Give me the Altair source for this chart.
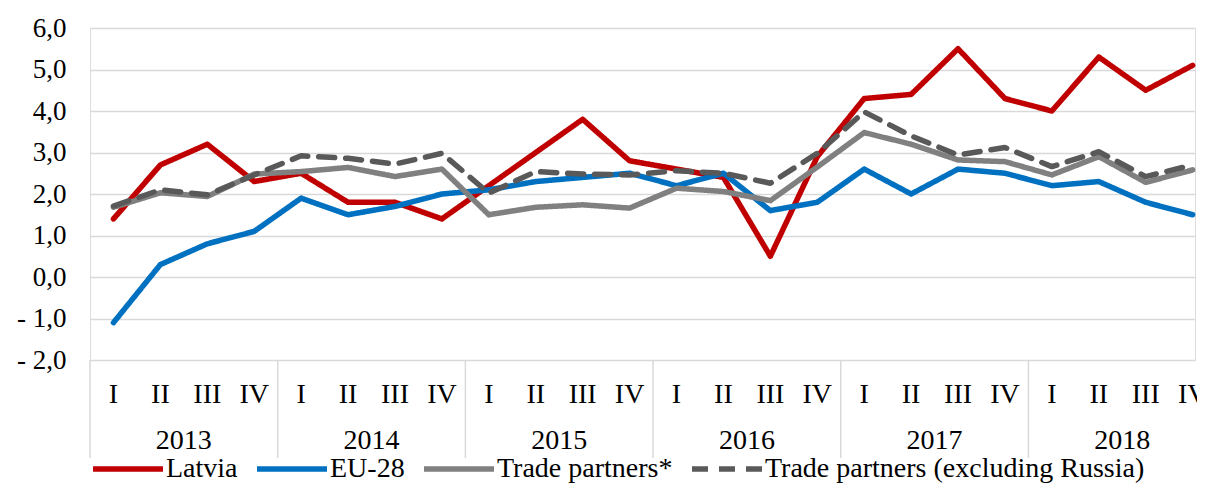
import altair as alt
import pandas as pd

quarters = ["I", "II", "III", "IV"] * 6
years = ["2013", "2014", "2015", "2016", "2017", "2018"]
series_names = ["Latvia", "EU-28", "Trade partners*", "Trade partners (excluding Russia)"]
latvia = [1.4, 2.7, 3.2, 2.3, 2.5, 1.8, 1.8, 1.4, 2.2, 3.0, 3.8, 2.8,
          2.6, 2.4, 0.5, 2.9, 4.3, 4.4, 5.5, 4.3, 4.0, 5.3, 4.5, 5.1]
eu28 = [-1.1, 0.3, 0.8, 1.1, 1.9, 1.5, 1.7, 2.0, 2.1, 2.3, 2.4, 2.5,
        2.2, 2.5, 1.6, 1.8, 2.6, 2.0, 2.6, 2.5, 2.2, 2.3, 1.8, 1.5]
trade = [1.68, 2.03, 1.94, 2.48, 2.54, 2.64, 2.42, 2.60, 1.50, 1.68, 1.74, 1.66,
         2.14, 2.06, 1.84, 2.65, 3.48, 3.20, 2.82, 2.78, 2.46, 2.90, 2.28, 2.58]
trade_ex = [1.71, 2.10, 1.98, 2.46, 2.92, 2.86, 2.72, 2.98, 2.02, 2.54, 2.48, 2.46,
            2.56, 2.50, 2.26, 2.98, 3.98, 3.40, 2.94, 3.12, 2.66, 3.02, 2.42, 2.70]
colors = ["#C00000", "#0070C0", "#808080", "#595959"]
dashes = [[1, 0], [1, 0], [1, 0], [16, 11]]

FONT = "Liberation Serif"
XMAX = 23.55

rows = []
for name, vals in zip(series_names, [latvia, eu28, trade, trade_ex]):
    for i, v in enumerate(vals):
        rows.append({"series": name, "pos": i + 0.5, "value": v})
df = pd.DataFrame(rows)

qdf = pd.DataFrame({"pos": [i + 0.5 for i in range(len(quarters))], "label": quarters})
ydf = pd.DataFrame({"start": [4 * i for i in range(len(years))],
                    "center": [4 * i + 2 for i in range(len(years))],
                    "label": years})

xscale = alt.Scale(domain=[0, XMAX], nice=False, zero=False)
yscale = alt.Scale(domain=[-2, 6], nice=False)

legend = alt.Legend(
    title=None, orient="none", legendX=0, legendY=403, direction="horizontal",
    symbolType="stroke", symbolSize=4900, symbolStrokeWidth=5.5,
    labelFont=FONT, labelFontSize=28, labelColor="black", labelOffset=0,
    columnPadding=8, padding=0, labelLimit=600,
)

color = alt.Color("series:N", scale=alt.Scale(domain=series_names, range=colors), legend=legend)
dash = alt.StrokeDash("series:N", scale=alt.Scale(domain=series_names, range=dashes), legend=legend)

yaxis = alt.Axis(
    values=[-2, -1, 0, 1, 2, 3, 4, 5, 6], grid=True, gridColor="#D9D9D9", gridWidth=1.5,
    domain=False, ticks=False, tickSize=0, labelPadding=24,
    labelFont=FONT, labelFontSize=27, labelColor="black", title=None,
    labelExpr="datum.value < 0 ? '- ' + replace(format(-datum.value, '.1f'), '.', ',') : replace(format(datum.value, '.1f'), '.', ',')",
)

base = alt.Chart(df)
layers = []
for s in series_names:
    layers.append(
        base.transform_filter(alt.datum.series == s)
        .mark_line(strokeWidth=5.5, strokeCap="round", strokeJoin="round")
        .encode(
            x=alt.X("pos:Q", scale=xscale, axis=None),
            y=alt.Y("value:Q", scale=yscale, axis=yaxis),
            color=color,
            strokeDash=dash,
        )
    )

seps = alt.Chart(ydf).mark_rule(color="#D9D9D9", strokeWidth=1.5).encode(
    x=alt.X("start:Q", scale=xscale, axis=None),
    y=alt.value(332), y2=alt.value(430),
)
qtext = alt.Chart(qdf).mark_text(font=FONT, fontSize=28, color="black", baseline="middle").encode(
    x=alt.X("pos:Q", scale=xscale, axis=None), y=alt.value(367), text="label:N"
)
ytext = alt.Chart(ydf).mark_text(font=FONT, fontSize=28, color="black", baseline="middle").encode(
    x=alt.X("center:Q", scale=xscale, axis=None), y=alt.value(413), text="label:N"
)

chart = alt.layer(seps, qtext, ytext, *layers).properties(
    width=1105, height=332,
    padding={"left": 82, "top": 20, "right": 2, "bottom": 123},
    autosize=alt.AutoSizeParams(type="none"),
).configure_view(stroke=None).configure_axis(domain=False).configure(background="white")

chart.save("out.html", embed_options={"renderer": "svg", "actions": False})
